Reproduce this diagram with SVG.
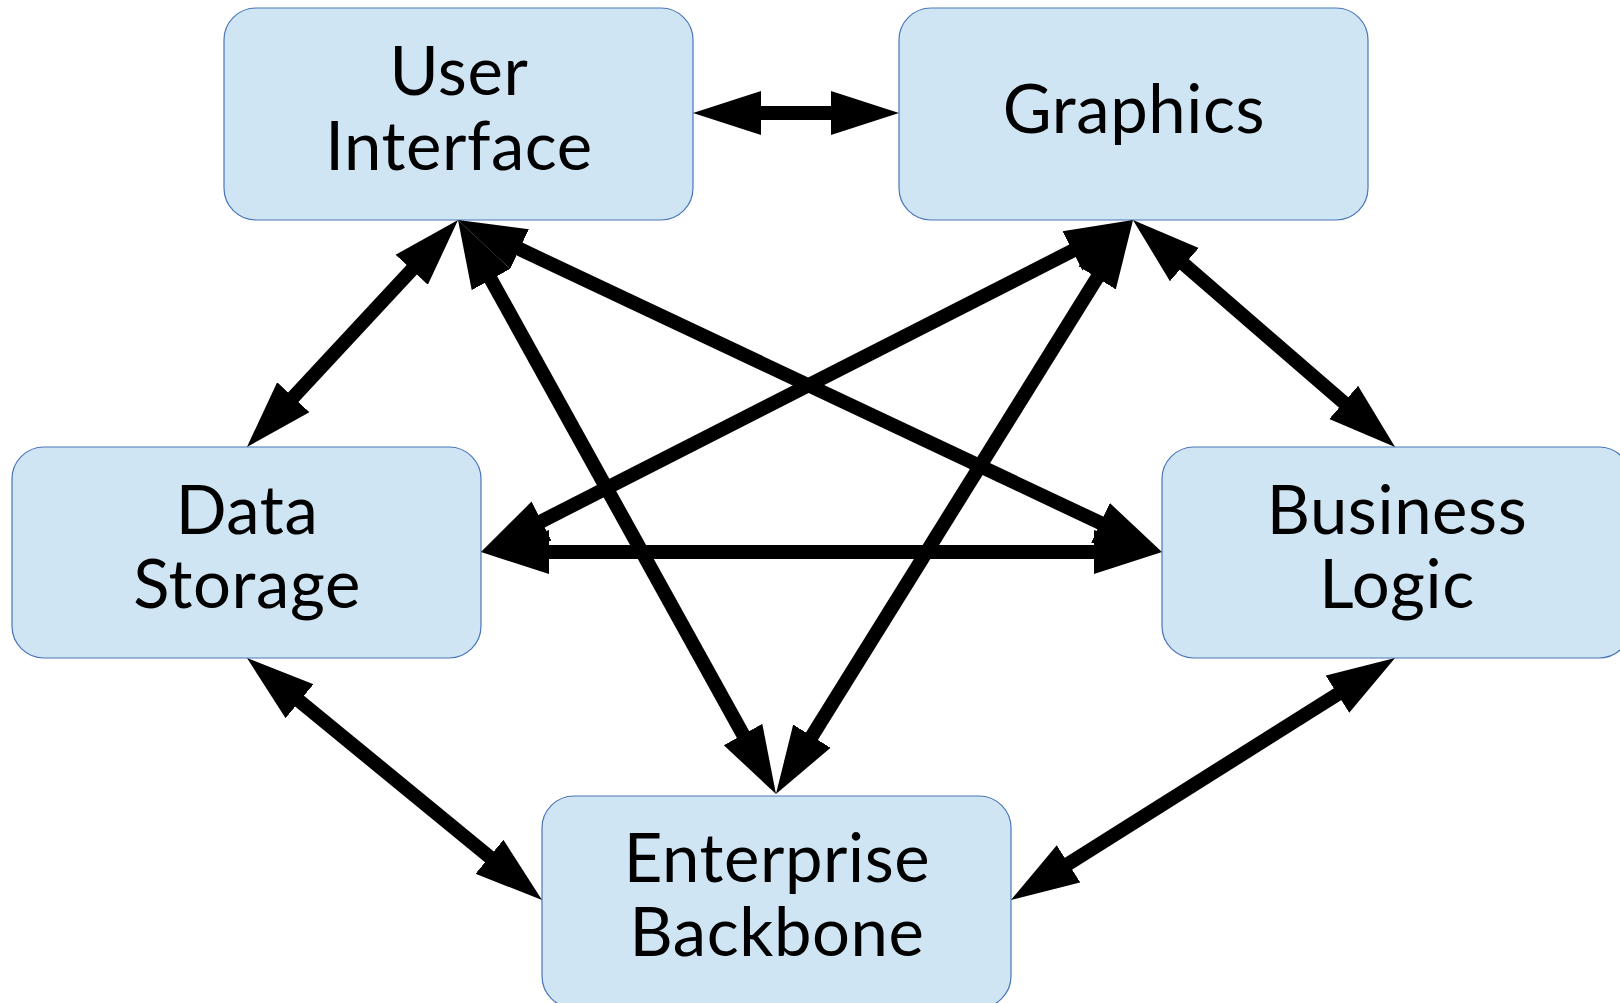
<svg xmlns="http://www.w3.org/2000/svg" width="1620" height="1003" viewBox="0 0 1620 1003">
<style>
.box{fill:#cfe5f3;stroke:#4a76b8;stroke-width:1.2}
.lbl{font-family:Lato,"Liberation Sans",sans-serif;font-size:67px;letter-spacing:0.6px;fill:#000;text-anchor:middle}
.c{stroke:#000;stroke-width:14;fill:none;marker-start:url(#ah);marker-end:url(#ah)}
</style>
<defs>
<marker id="ah" markerUnits="userSpaceOnUse" viewBox="0 -23 68 46" refX="28" refY="0" markerWidth="68" markerHeight="46" orient="auto-start-reverse">
<path d="M0,-22 L68,0 L0,22 z" fill="#000"/>
</marker>
</defs>
<rect width="1620" height="1003" fill="#fff"/>
<g id="n-ui"><rect class="box" x="224" y="8" width="469" height="212" rx="32"/><text class="lbl" x="459" y="95">User</text><text class="lbl" x="459" y="170">Interface</text></g>
<g id="n-graphics"><rect class="box" x="899" y="8" width="469" height="212" rx="32"/><text class="lbl" x="1134" y="133">Graphics</text></g>
<g id="n-data"><rect class="box" x="12" y="447" width="469" height="211" rx="32"/><text class="lbl" x="247" y="534">Data</text><text class="lbl" x="247" y="608">Storage</text></g>
<g id="n-business"><rect class="box" x="1162" y="447" width="469" height="211" rx="32"/><text class="lbl" x="1397" y="534">Business</text><text class="lbl" x="1397" y="608">Logic</text></g>
<g id="n-enterprise"><rect class="box" x="542" y="796" width="469" height="212" rx="32"/><text class="lbl" x="777" y="882">Enterprise</text><text class="lbl" x="777" y="956">Backbone</text></g>
<g id="connectors">
<line class="c" x1="733" y1="113" x2="859" y2="113"/>
<line class="c" x1="430.8" y1="249.3" x2="274.2" y2="417.7"/>
<line class="c" x1="477.4" y1="255" x2="756.6" y2="759"/>
<line class="c" x1="494.2" y1="237.1" x2="1125.8" y2="534.9"/>
<line class="c" x1="1097.4" y1="238.1" x2="516.6" y2="533.9"/>
<line class="c" x1="1111.9" y1="254" x2="797.1" y2="760"/>
<line class="c" x1="1163.2" y1="246.2" x2="1364.8" y2="420.8"/>
<line class="c" x1="521" y1="552" x2="1122" y2="552"/>
<line class="c" x1="277.9" y1="683.4" x2="511.1" y2="874.6"/>
<line class="c" x1="1361.2" y1="679.3" x2="1044.8" y2="878.7"/>
</g>
</svg>
